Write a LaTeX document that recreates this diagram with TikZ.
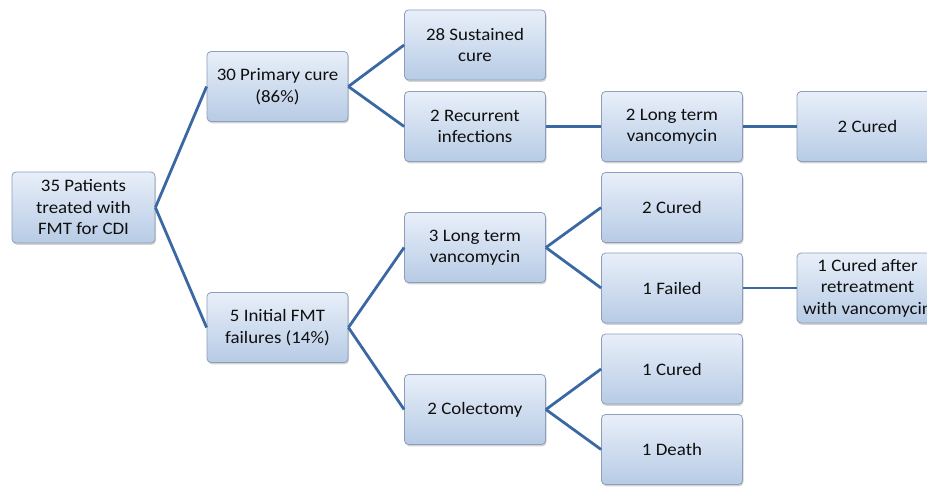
\documentclass[tikz,border=0pt]{standalone}
\usepackage{fontspec}
\setmainfont{Carlito}[FakeStretch=1.08]
\usetikzlibrary{shadows}

\definecolor{boxtop}{RGB}{232,239,249}
\definecolor{boxbottom}{RGB}{183,203,229}
\definecolor{boxline}{RGB}{140,158,186}
\definecolor{linkblue}{RGB}{58,104,162}
\definecolor{txt}{RGB}{15,15,15}

\tikzset{
  stage/.style={rectangle,rounded corners=4pt,draw=boxline,line width=0.8pt,
    top color=boxtop,bottom color=boxbottom,
    drop shadow={opacity=0.35,shadow xshift=1pt,shadow yshift=-1.8pt},
    minimum width=141pt,minimum height=70pt,inner sep=2pt,
    align=center,text=txt,
    font=\fontsize{17.5}{21.5}\selectfont},
  link/.style={draw=linkblue,line width=2.8pt}
}

\begin{document}
\begin{tikzpicture}[x=1pt,y=-1pt]
	\useasboundingbox (0,0) rectangle (927,487);
	\clip (0,0) rectangle (927,487);
	% first level
	\node [stage,minimum width=143pt,minimum height=71pt] (root) at (83.5,207.5) {35 Patients\\treated with\\FMT for CDI};
	\node [stage] (primary) at (277.5,86.5) {30 Primary cure\\(86\%)};
	\node [stage] (initial) at (277.5,327.5) {5 Initial FMT\\failures (14\%)};
	% second level
	\node [stage] (sustained) at (475,45) {28 Sustained\\cure};
	\node [stage] (recurrent) at (475,126.5) {2 Recurrent\\infections};
	\node [stage] (vanco3) at (475,247.5) {3 Long term\\vancomycin};
	\node [stage] (colectomy) at (475,409.5) {2 Colectomy};
	% third level
	\node [stage] (vanco2) at (672,126.5) {2 Long term\\vancomycin};
	\node [stage] (cured2a) at (672,207.5) {2 Cured};
	\node [stage] (failed) at (672,288) {1 Failed};
	\node [stage] (cured1a) at (672,369) {1 Cured};
	\node [stage] (death) at (672,449.5) {1 Death};
	% fourth level
	\node [stage] (cured2b) at (867.5,126.5) {2 Cured};
	\node [stage] (retreat) at (867.5,288) {1 Cured after\\retreatment\\with vancomycin};

	\foreach \a/\b in {root/primary,root/initial,primary/sustained,primary/recurrent,
		initial/vanco3,initial/colectomy,recurrent/vanco2,vanco2/cured2b,
		vanco3/cured2a,vanco3/failed,failed/retreat,colectomy/cured1a,colectomy/death}
		\draw [link] (\a.east) -- (\b.west);
\end{tikzpicture}
\end{document}
